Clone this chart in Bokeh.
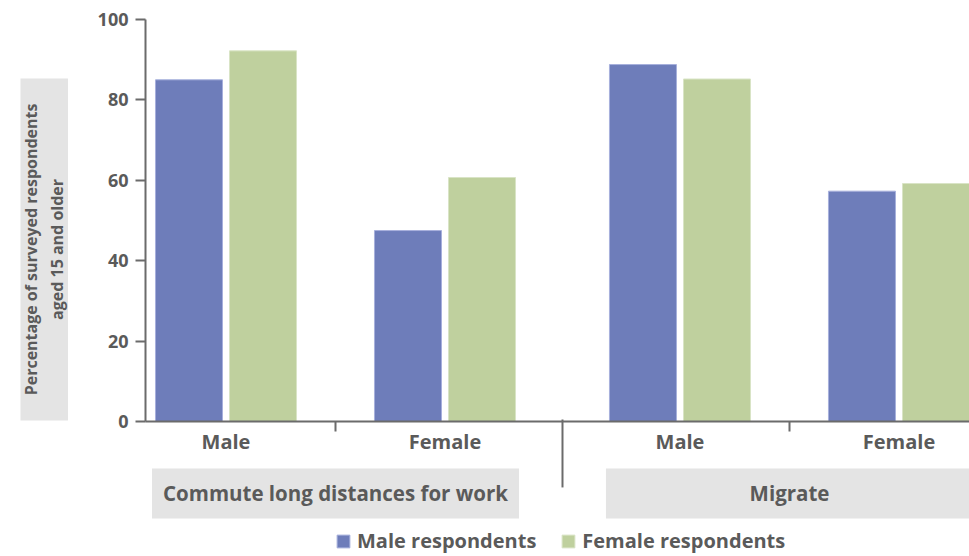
import math
from bokeh.plotting import figure
from bokeh.models import (Range1d, FixedTicker, Label, Legend, LegendItem,
                          ColumnDataSource)
from bokeh.embed import file_html
from bokeh.resources import INLINE

# ---- data ----
groups = ["Commute long distances for work", "Migrate"]
subgroups = ["Male", "Female"]
male_respondents = [85, 47.5, 88.8, 57.3]
female_respondents = [92.2, 60.7, 85.2, 59.2]
series_labels = ["Male respondents", "Female respondents"]
y_ticks = [0, 20, 40, 60, 80, 100]
y_axis_title = "Percentage of surveyed respondents\naged 15 and older"

# ---- style / layout ----
BLUE = "#6e7dba"
GREEN = "#bfd09e"
AXIS = "#6b6b6b"
TEXT = "#5a5a5a"
BOX = "#e4e4e4"
FONT = "Open Sans"
GAP = 0.073          # extra space between the two groups (category units)
BAR_W = 0.306
OFFSET = 0.169
X_AXIS_POS = -0.3676  # where the value axis stands (x data units)

pair_x = []
for g in range(len(groups)):
    for s in range(len(subgroups)):
        pair_x.append(round(g * len(subgroups) + s + g * GAP, 4))
male_x = [x - OFFSET for x in pair_x]
female_x = [x + OFFSET for x in pair_x]
group_centres = [round(g * len(subgroups) + (len(subgroups) - 1) / 2 + g * GAP, 4)
                 for g in range(len(groups))]
separator_x = (pair_x[1] + pair_x[2]) / 2

p = figure(width=969, height=556, output_backend="svg", toolbar_location=None,
           x_range=Range1d(-1.0297, 3.395), y_range=Range1d(-33.58, 104.73),
           min_border=0)
p.outline_line_color = None
p.xgrid.visible = False
p.ygrid.visible = False
p.background_fill_color = "white"
p.border_fill_color = "white"

# y axis title box and group label boxes (drawn first, underneath)
HALF = 0.838
box_src = ColumnDataSource(dict(
    left=[-0.9384] + [c - HALF for c in group_centres],
    right=[-0.7215] + [c + HALF for c in group_centres],
    bottom=[0.25, -24.1, -24.1],
    top=[85.3, -11.7, -11.7]))
p.quad(left="left", right="right", bottom="bottom", top="top", source=box_src,
       fill_color=BOX, line_color=None)

src_m = ColumnDataSource(dict(x=male_x, top=male_respondents))
src_f = ColumnDataSource(dict(x=female_x, top=female_respondents))
r_m = p.vbar(x="x", top="top", width=BAR_W, bottom=0, source=src_m,
             fill_color=BLUE, line_color="#a7b0dc", line_width=1)
r_f = p.vbar(x="x", top="top", width=BAR_W, bottom=0, source=src_f,
             fill_color=GREEN, line_color="#d9e4c6", line_width=1)

# group separator
p.segment(x0=[separator_x], y0=[0.5], x1=[separator_x], y1=[-16.4],
          line_color=AXIS, line_width=2)

# y axis
ya = p.yaxis[0]
ya.fixed_location = X_AXIS_POS
ya.bounds = (0, 100)
ya.ticker = FixedTicker(ticks=y_ticks)
ya.axis_line_color = AXIS
ya.axis_line_width = 2
ya.major_tick_line_color = AXIS
ya.major_tick_line_width = 2
ya.major_tick_out = 10
ya.major_tick_in = 0
ya.minor_tick_line_color = None
ya.major_label_text_font = FONT
ya.major_label_text_font_style = "bold"
ya.major_label_text_font_size = "18px"
ya.major_label_text_color = TEXT
ya.major_label_standoff = 7

# x axis
xa = p.xaxis[0]
xa.fixed_location = 0
xa.bounds = (X_AXIS_POS, 3.395)
xa.ticker = FixedTicker(ticks=pair_x, minor_ticks=[pair_x[0] + 0.5, pair_x[2] + 0.5])
xa.major_label_overrides = {x: subgroups[i % len(subgroups)] for i, x in enumerate(pair_x)}
xa.axis_line_color = AXIS
xa.axis_line_width = 2
xa.major_tick_line_color = None
xa.major_tick_out = 0
xa.major_tick_in = 0
xa.minor_tick_line_color = AXIS
xa.minor_tick_line_width = 2
xa.minor_tick_out = 10
xa.minor_tick_in = 0
xa.major_label_text_font = FONT
xa.major_label_text_font_style = "bold"
xa.major_label_text_font_size = "20px"
xa.major_label_text_color = TEXT
xa.major_label_standoff = -4

for name, c in zip(groups, group_centres):
    p.add_layout(Label(x=c, y=-17.9, text=name, text_align="center",
                       text_baseline="middle", text_font=FONT, text_font_style="bold",
                       text_font_size="20.5px", text_color=TEXT))

p.add_layout(Label(x=-0.8300, y=42.8, text=y_axis_title, angle=math.pi / 2,
                   text_align="center", text_baseline="middle", text_font=FONT,
                   text_font_style="bold", text_font_size="16px", text_color=TEXT,
                   text_line_height=1.2))

legend = Legend(items=[LegendItem(label=series_labels[0], renderers=[r_m]),
                       LegendItem(label=series_labels[1], renderers=[r_f])],
                location=(335, 2), orientation="horizontal",
                background_fill_alpha=0, border_line_color=None,
                glyph_width=16, glyph_height=16, label_standoff=6, spacing=24,
                padding=0, margin=0, label_text_font=FONT,
                label_text_font_style="bold", label_text_font_size="20px",
                label_text_color=TEXT)
p.add_layout(legend)

open("out.html", "w").write(file_html(p, INLINE))
